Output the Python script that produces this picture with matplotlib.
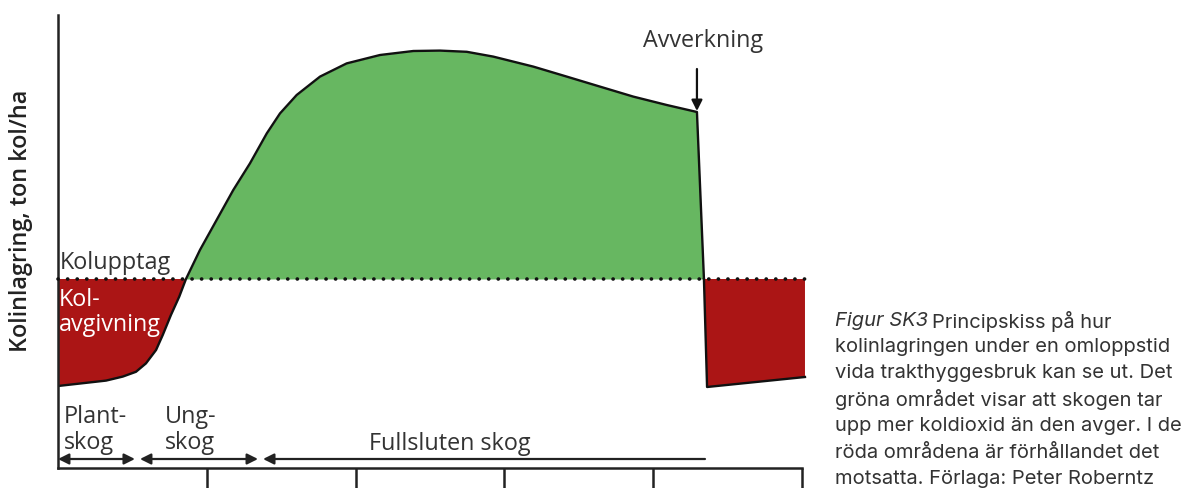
import matplotlib
matplotlib.use("Agg")
import matplotlib.pyplot as plt
import numpy as np

# ---- data (x: tidsperiod, y: kolflöde relativt upptag=0) ----
curve_x = [0.0, 0.323, 0.435, 0.524, 0.591, 0.659, 0.704, 0.759, 0.815, 0.860,
           0.954, 1.066, 1.178, 1.290, 1.403, 1.492, 1.604, 1.761, 1.940, 2.164,
           2.388, 2.567, 2.747, 2.925, 3.194, 3.419, 3.642, 3.866, 4.091, 4.294,
           4.341]
curve_y = [-2.675, -2.54, -2.44, -2.32, -2.11, -1.775, -1.4, -0.9, -0.44, 0.0,
           0.725, 1.475, 2.225, 2.89, 3.64, 4.14, 4.6, 5.06, 5.39, 5.6,
           5.7, 5.71, 5.68, 5.56, 5.31, 5.06, 4.81, 4.56, 4.35, 4.175,
           0.0]
harvest_x = [4.341, 4.362, 5.02, 5.02]
harvest_y = [0.0, -2.7, -2.45, 0.0]
tick_pos = [1, 2, 3, 4, 5]
phase_labels = ["Plant-\nskog", "Ung-\nskog", "Fullsluten skog"]
phase_start = [0.0, 0.551, 1.378]
phase_end = [0.517, 1.344, 4.348]
harvest_at = 4.294

GREEN = "#67b761"
RED = "#ab1515"
TXT = "#333333"

fig = plt.figure(figsize=(11.94, 4.88), dpi=100)
ax = fig.add_axes([58/1194, 20/488, (802-58)/1194, (468-15)/488])
ax.set_xlim(0, 5)
ax.set_ylim(-4.725, 6.6)

cx = np.array(curve_x); cy = np.array(curve_y)
ax.fill_between(cx, cy, 0, where=cy >= 0, interpolate=True, color=GREEN, lw=0)
ax.fill_between(cx, cy, 0, where=cy <= 0, interpolate=True, color=RED, lw=0)
ax.plot(cx, cy, color="#111111", lw=1.7, solid_capstyle="round", solid_joinstyle="round")
ax.fill(harvest_x, harvest_y, color=RED, lw=0, clip_on=False)
ax.plot(harvest_x[:3], harvest_y[:3], color="#111111", lw=1.7, clip_on=False)

# dotted zero line
ax.plot([0, 5.03], [0, 0], color="#111111", lw=2.6,
        linestyle=(0, (0.05, 2.6)), dash_capstyle="round", clip_on=False, zorder=5)

# spines & ticks
for s in ["top", "right"]:
    ax.spines[s].set_visible(False)
for s in ["left", "bottom"]:
    ax.spines[s].set_linewidth(1.8)
    ax.spines[s].set_color("#222222")
ax.set_yticks([])
ax.set_xticks(tick_pos)
ax.set_xticklabels([])
ax.tick_params(axis="x", direction="out", length=14.5, width=1.8, color="#222222")

font = "Open Sans"
FS = 16.8
# labels in chart
ax.text(0.012, 0.1, "Kolupptag", fontsize=FS, color=TXT, family=font, va="bottom", ha="left")
ax.text(0.008, -0.22, "Kol-\navgivning", fontsize=FS, color="white", family=font,
        va="top", ha="left", linespacing=1.08)

ax.text(0.04, -3.78, phase_labels[0], fontsize=FS, color=TXT, family=font,
        va="center", ha="left", linespacing=1.12)
ax.text(0.72, -3.78, phase_labels[1], fontsize=FS, color=TXT, family=font,
        va="center", ha="left", linespacing=1.12)
ax.text(2.09, -4.12, phase_labels[2], fontsize=FS, color=TXT, family=font,
        va="center", ha="left")

arrow_y = -4.5
for i in range(2):
    ax.annotate("", xy=(phase_end[i], arrow_y), xytext=(phase_start[i], arrow_y),
                arrowprops=dict(arrowstyle="<|-|>", color="#222222", lw=1.6,
                                mutation_scale=16, shrinkA=0, shrinkB=0))
ax.annotate("", xy=(phase_start[2], arrow_y), xytext=(phase_end[2], arrow_y),
            arrowprops=dict(arrowstyle="-|>", color="#222222", lw=1.6,
                            mutation_scale=16, shrinkA=0, shrinkB=0))

# Avverkning
ax.text(4.335, 5.95, "Avverkning", fontsize=FS, color=TXT, family=font,
        ha="center", va="center", clip_on=False)
ax.annotate("", xy=(harvest_at, 4.2), xytext=(harvest_at, 5.25),
            arrowprops=dict(arrowstyle="-|>", color="#111111", lw=1.6,
                            mutation_scale=16, shrinkA=0, shrinkB=0))

# y label
fig.text(21/1194, (488-221)/488, "Kolinlagring, ton kol/ha", rotation=90,
         fontsize=16.8, fontweight="semibold", color="#222222", family=font,
         ha="center", va="center")

# caption
cap_font = "Inter"
CFS = 14.5
cap_x = 835/1194
line_y = [321, 347, 373, 400, 426, 453, 479]
lines = ["Principskiss på hur",
         "kolinlagringen under en omloppstid",
         "vida trakthyggesbruk kan se ut. Det",
         "gröna området visar att skogen tar",
         "upp mer koldioxid än den avger. I de",
         "röda områdena är förhållandet det",
         "motsatta. Förlaga: Peter Roberntz"]
t0 = fig.text(cap_x, (488-line_y[0])/488, "Figur SK3", fontsize=CFS, style="italic",
              color=TXT, family=cap_font, va="center", ha="left")
fig.canvas.draw()
bb = t0.get_window_extent(renderer=fig.canvas.get_renderer())
fig.text(bb.x1/1194 + 4/1194, (488-line_y[0])/488, lines[0], fontsize=CFS,
         color=TXT, family=cap_font, va="center", ha="left")
for txt, ly in zip(lines[1:], line_y[1:]):
    fig.text(cap_x, (488-ly)/488, txt, fontsize=CFS, color=TXT, family=cap_font,
             va="center", ha="left")

fig.savefig("out.png", dpi=100)
